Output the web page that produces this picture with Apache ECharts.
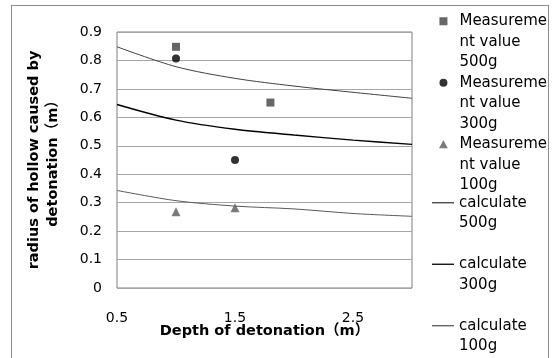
<!DOCTYPE html>
<html lang="en">
<head>
    <meta charset="UTF-8">
    <title>Hollow radius chart</title>
    <script src="https://cdn.jsdelivr.net/npm/echarts@6/dist/echarts.min.js"></script>
    <style>
        * { padding: 0; margin: 0; }
        body { background: #fff; }
        #frame {
            position: absolute;
            left: 11px; top: 5px;
            width: 536px; height: 352px;
            border: 1px solid #8c8c8c;
        }
        #main { position: absolute; left: 0; top: 0; width: 553px; height: 358px; }
    </style>
</head>
<body>
    <div id="frame"></div>
    <div id="main"></div>
    <script>
        // measured points [depth, radius]
        var meas500 = [[1.0, 0.848], [1.8, 0.652]];
        var meas300 = [[1.0, 0.807], [1.5, 0.450]];
        var meas100 = [[1.0, 0.268], [1.5, 0.282]];

        // calculated curves
        var depths = [0.5, 1.0, 1.5, 2.0, 2.5, 3.0];
        var calc500 = [0.848, 0.778, 0.737, 0.710, 0.688, 0.667];
        var calc300 = [0.645, 0.590, 0.558, 0.538, 0.520, 0.505];
        var calc100 = [0.343, 0.307, 0.288, 0.278, 0.262, 0.252];

        var names = [
            'Measureme\nnt value\n500g',
            'Measureme\nnt value\n300g',
            'Measureme\nnt value\n100g',
            'calculate\n500g',
            'calculate\n300g',
            'calculate\n100g'
        ];

        function pairs(ys) {
            var out = [];
            for (var i = 0; i < depths.length; i++) {
                out.push([depths[i], ys[i]]);
            }
            return out;
        }

        var txt = 'DejaVu Sans';
        var bold = '"DejaVu Sans", "Noto Sans CJK JP", sans-serif';

        var myChart = echarts.init(document.getElementById('main'));

        myChart.setOption({
            animation: false,
            grid: {
                left: 117, right: 141, top: 32, bottom: 70,
                show: true, borderColor: '#7f7f7f', borderWidth: 1
            },
            legend: [
                {
                    // blank lines on top keep the marker beside the first text line
                    data: [
                        { name: names[0], icon: 'path://M0,0L1,0L1,1L0,1Z' },
                        { name: names[1], icon: 'circle' },
                        { name: names[2], icon: 'path://M0.5,0L1,0.9L0,0.9Z' }
                    ],
                    formatter: function (n) { return '\n\n' + n; },
                    orient: 'vertical',
                    left: 439, top: -30,
                    padding: 0,
                    itemWidth: 22, itemHeight: 8,
                    itemGap: -41,
                    textStyle: { fontFamily: txt, fontSize: 15, color: '#000', lineHeight: 20.5 }
                },
                {
                    data: [
                        { name: names[3], icon: 'rect' },
                        { name: names[4], icon: 'rect' },
                        { name: names[5], icon: 'rect' }
                    ],
                    formatter: function (n) { return '\n' + n; },
                    orient: 'vertical',
                    left: 432, top: 172,
                    padding: 0,
                    itemWidth: 22, itemHeight: 1.3,
                    itemGap: 0,
                    textStyle: { fontFamily: txt, fontSize: 15, color: '#000', lineHeight: 20.5 }
                }
            ],
            xAxis: {
                type: 'value',
                min: 0.5, max: 3.0, interval: 1,
                name: 'Depth of detonation（m）',
                nameLocation: 'middle',
                nameGap: 36,
                nameMoveOverlap: false,
                nameTextStyle: { fontFamily: bold, fontWeight: 'bold', fontSize: 14.5, color: '#000' },
                axisLine: { show: false },
                axisTick: { show: false },
                splitLine: { show: false },
                axisLabel: {
                    fontFamily: txt, fontSize: 14, color: '#000', margin: 23,
                    showMaxLabel: false
                }
            },
            yAxis: {
                type: 'value',
                min: 0, max: 0.9, interval: 0.1,
                name: 'radius of hollow caused by\ndetonation（m）',
                nameLocation: 'middle',
                nameGap: 54,
                nameTextStyle: { fontFamily: bold, fontWeight: 'bold', fontSize: 14.5, color: '#000', lineHeight: 19 },
                axisLine: { show: false },
                axisTick: { show: false },
                splitLine: { lineStyle: { color: '#a6a6a6', width: 1 } },
                axisLabel: {
                    fontFamily: txt, fontSize: 14, color: '#000', margin: 15,
                    formatter: function (v) { return v === 0 ? '0' : v.toFixed(1); }
                }
            },
            series: [
                {
                    name: names[0], type: 'scatter', data: meas500,
                    symbol: 'rect', symbolSize: 8,
                    itemStyle: { color: '#404040' }
                },
                {
                    name: names[1], type: 'scatter', data: meas300,
                    symbol: 'circle', symbolSize: 8,
                    itemStyle: { color: '#000' }
                },
                {
                    name: names[2], type: 'scatter', data: meas100,
                    symbol: 'triangle', symbolSize: 9,
                    itemStyle: { color: '#5a5a5a' }
                },
                {
                    name: names[3], type: 'line', data: pairs(calc500),
                    symbol: 'none', smooth: 0.3,
                    lineStyle: { color: '#404040', width: 1 },
                    itemStyle: { color: '#404040' }
                },
                {
                    name: names[4], type: 'line', data: pairs(calc300),
                    symbol: 'none', smooth: 0.3,
                    lineStyle: { color: '#000', width: 1.4 },
                    itemStyle: { color: '#000' }
                },
                {
                    name: names[5], type: 'line', data: pairs(calc100),
                    symbol: 'none', smooth: 0.3,
                    lineStyle: { color: '#595959', width: 1 },
                    itemStyle: { color: '#595959' }
                }
            ]
        });
    </script>
</body>
</html>
